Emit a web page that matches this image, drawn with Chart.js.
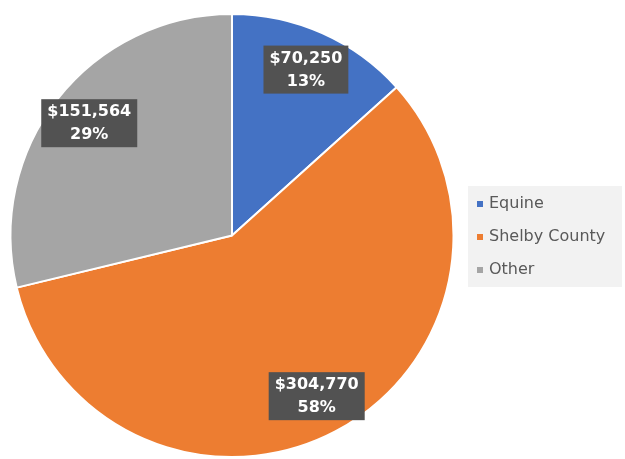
<!DOCTYPE html>
<html>
<head>
<meta charset="utf-8">
<script src="https://cdn.jsdelivr.net/npm/chart.js@4.4.1/dist/chart.umd.min.js"></script>
<style>
  html, body { margin: 0; padding: 0; background: #fff; }
  #wrap { width: 625px; height: 459px; }
</style>
</head>
<body>
<div id="wrap"><canvas id="pieChart" width="625" height="459"></canvas></div>
<script>
// data
const categories = ["Equine", "Shelby County", "Other"];
const amounts = [70250, 304770, 151564];
const sliceColors = ["#4472C4", "#ED7D31", "#A5A5A5"];

const total = amounts.reduce((a, b) => a + b, 0);

// dark boxes with amount + share inside each slice
const valueLabels = {
  id: "valueLabels",
  afterDatasetsDraw(chart) {
    const ctx = chart.ctx;
    const meta = chart.getDatasetMeta(0);
    meta.data.forEach((arc, i) => {
      const p = arc.getProps(["x", "y", "startAngle", "endAngle", "outerRadius"], true);
      const mid = (p.startAngle + p.endAngle) / 2;
      const r = p.outerRadius * 0.82;
      const cx = p.x + Math.cos(mid) * r;
      const cy = p.y + Math.sin(mid) * r;
      const line1 = "$" + amounts[i].toLocaleString("en-US");
      const line2 = Math.round(amounts[i] / total * 100) + "%";
      ctx.save();
      ctx.font = "bold 16px 'DejaVu Sans'";
      const w = Math.max(ctx.measureText(line1).width, ctx.measureText(line2).width) + 12;
      const h = 48;
      ctx.fillStyle = "#525252";
      ctx.fillRect(cx - w / 2, cy - h / 2, w, h);
      ctx.fillStyle = "#ffffff";
      ctx.textAlign = "center";
      ctx.textBaseline = "middle";
      ctx.fillText(line1, cx, cy - 11);
      ctx.fillText(line2, cx, cy + 12);
      ctx.restore();
    });
  }
};

// legend panel on the right
const sideLegend = {
  id: "sideLegend",
  afterDraw(chart) {
    const ctx = chart.ctx;
    ctx.save();
    ctx.fillStyle = "#f2f2f2";
    ctx.fillRect(468, 186, 154, 101);
    ctx.font = "16px 'DejaVu Sans'";
    ctx.textBaseline = "middle";
    ctx.textAlign = "left";
    chart.data.labels.forEach((lbl, i) => {
      const y = 204 + i * 33;
      ctx.fillStyle = chart.data.datasets[0].backgroundColor[i];
      ctx.fillRect(477, y - 3, 6, 6);
      ctx.fillStyle = "#595959";
      ctx.fillText(lbl, 489, y);
    });
    ctx.restore();
  }
};

new Chart(document.getElementById("pieChart").getContext("2d"), {
  type: "pie",
  data: {
    labels: categories,
    datasets: [
      {
        data: amounts,
        backgroundColor: sliceColors,
        borderColor: "#ffffff",
        borderWidth: 2
      }
    ]
  },
  options: {
    responsive: false,
    animation: false,
    layout: { padding: { left: 8, right: 169, top: 13, bottom: 1 } },
    plugins: {
      legend: { display: false },
      tooltip: { enabled: false }
    }
  },
  plugins: [valueLabels, sideLegend]
});
</script>
</body>
</html>
